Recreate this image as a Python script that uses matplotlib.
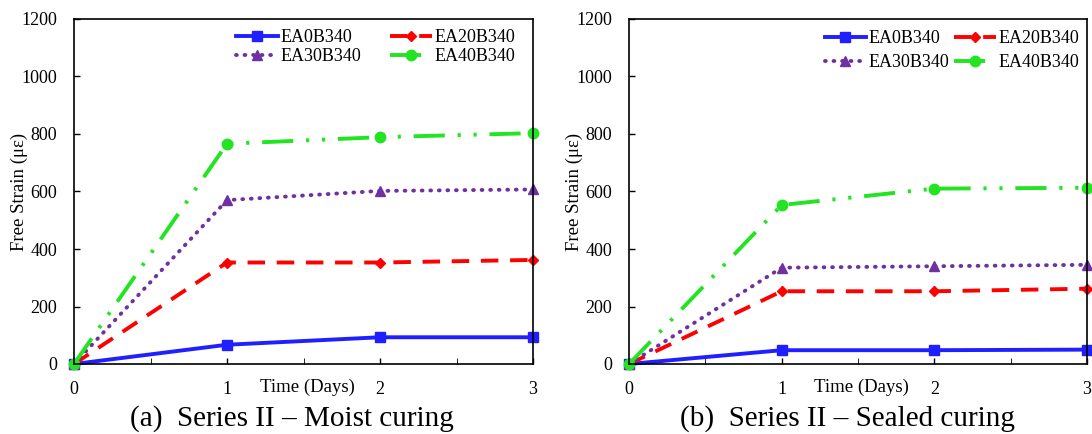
import matplotlib.pyplot as plt

plt.rcParams['font.family'] = ['Liberation Serif', 'DejaVu Serif']

days = [0, 1, 2, 3]
names = ["EA0B340", "EA20B340", "EA30B340", "EA40B340"]

# Series II - Moist curing
moist_ea0 = [0, 67, 93, 93]
moist_ea20 = [0, 353, 353, 362]
moist_ea30 = [0, 570, 602, 607]
moist_ea40 = [0, 766, 789, 803]

# Series II - Sealed curing
sealed_ea0 = [0, 48, 48, 50]
sealed_ea20 = [0, 253, 253, 262]
sealed_ea30 = [0, 335, 340, 345]
sealed_ea40 = [0, 553, 610, 613]

captions = ["(a)  Series II \u2013 Moist curing", "(b)  Series II \u2013 Sealed curing"]

styles = [
    dict(color="#1f1fff", ls="-", marker="s", ms=6.5, lw=2.8),
    dict(color="#ff0000", ls=(0, (4.5, 3)), marker="D", ms=5, lw=2.8),
    dict(color="#7030a0", ls=(0, (0.2, 2.0)), marker="^", ms=7.5, lw=2.8,
         dash_capstyle="round"),
    dict(color="#22e422", ls=(0, (8, 3.3, 0.8, 3.3, 0.8, 3.3)), marker="o", ms=7.5, lw=2.8),
]

fig = plt.figure(figsize=(10.92, 4.34), dpi=100)
ax_left = [74, 629]
ax_w = [459, 458]
axes = [fig.add_axes([ax_left[k] / 1092, 1 - 364 / 434, ax_w[k] / 1092, 345 / 434])
        for k in range(2)]

data = [[moist_ea0, moist_ea20, moist_ea30, moist_ea40],
        [sealed_ea0, sealed_ea20, sealed_ea30, sealed_ea40]]

xlab_x = [307, 861]
cap_x = [292, 847]
ylab_right = [28, 583]
leg_anchor = [((515 - 74) / 459, (364 - 29) / 345), ((1079 - 629) / 458, (364 - 30) / 345)]
leg_colsp = [1.6, 0.25]
leg_rowsp = [0.12, 0.4]

for i, ax in enumerate(axes):
    lines = []
    for vals, name, st in zip(data[i], names, styles):
        ln, = ax.plot(days, vals, label=name, clip_on=False, **st)
        lines.append(ln)
    ax.set_xlim(0, 3)
    ax.set_ylim(0, 1200)
    ax.set_xticks([0, 1, 2, 3])
    ax.set_xticks([0.5, 1.5, 2.5], minor=True)
    ax.set_yticks(range(0, 1201, 200))
    ax.tick_params(direction="in", labelsize=13, length=4, width=1)
    ax.tick_params(axis="x", which="both", direction="in", length=4, pad=12)
    ax.tick_params(axis="y", pad=12)
    for sp in ax.spines.values():
        sp.set_linewidth(1.2)
    ax.set_ylabel("Free Strain (\u03bc\u03b5)", fontsize=13.5)
    ax.yaxis.set_label_coords((ylab_right[i] - ax_left[i]) / ax_w[i], 0.5)
    order = [0, 2, 1, 3]
    ax.legend([lines[k] for k in order], [names[k] for k in order], ncol=2,
              frameon=False, fontsize=13, loc="upper right",
              bbox_to_anchor=leg_anchor[i], handlelength=2.3,
              columnspacing=leg_colsp[i], labelspacing=leg_rowsp[i],
              handletextpad=0.15, borderaxespad=0, borderpad=0)
    fig.text(xlab_x[i] / 1092, 1 - 387 / 434, "Time (Days)", fontsize=13.5,
             ha="center", va="center")
    fig.text(cap_x[i] / 1092, 1 - 419 / 434, captions[i], fontsize=21,
             ha="center", va="center")

fig.savefig("out.png", dpi=100)
